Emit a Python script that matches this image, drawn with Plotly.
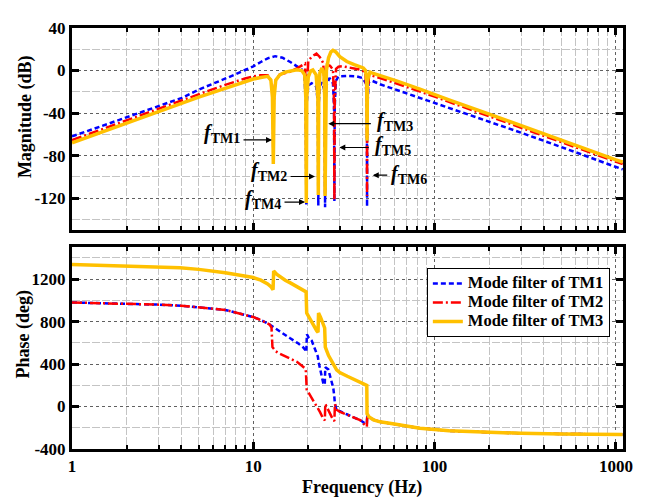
import math
import plotly.graph_objects as go

# ---------------- data ----------------
freq_ticks = [1, 10, 100, 1000]
freq_tick_text = ["1", "10", "100", "1000"]
mag_ticks = [40, 0, -40, -80, -120]
mag_tick_text = ["40", "0", "-40", "-80", "-120"]
mag_minor = [20, -20, -60, -100, -140]
phase_ticks = [1200, 800, 400, 0, -400]
phase_tick_text = ["1200", "800", "400", "0", "-400"]
phase_minor = [1400, 1000, 600, 200, -200]

names = ["Mode filter of TM1", "Mode filter of TM2", "Mode filter of TM3"]

# Magnitude, TM1 filter
mag_f_tm1 = [1, 1.5, 2, 3, 4, 5, 6, 7, 8, 9, 10, 11, 12, 13.2, 14.5, 16, 17.5, 18.5,
             19.1, 19.48, 19.6, 19.72, 20.1, 21, 22.2, 22.7, 22.83, 22.96, 23.4, 23.9,
             24.6, 24.76, 24.88, 25.0, 25.3, 26.3, 27.5, 27.88, 28.0, 28.12, 28.5, 29.5,
             33, 37, 40, 41.8, 42.28, 42.4, 42.52, 43.3, 45, 50, 60, 83, 102, 120, 200,
             300, 500, 700, 1000, 1090]
mag_tm1 = [-62, -51.5, -44, -33.5, -26, -18, -12.5, -7.5, -3.5, 0.5, 4, 8, 11.5, 13.5, 12, 8, 4, 1,
           -3, -30, -126, -30, -14, -12, -15, -30, -127, -30, -14, -11,
           -18, -35, -128.5, -35, -14, -7, -12, -35, -123, -35, -10, -5.5,
           -5, -5.5, -7, -12, -35, -128, -35, -11, -9.5, -12.9, -17.5, -25.5, -31, -35, -48,
           -58.5, -72, -81, -91, -93]

# Magnitude, TM2 filter
mag_f_tm2 = [1, 1.5, 2, 3, 4, 5, 6, 7, 8, 9, 10, 11, 12, 12.6, 12.8, 12.89, 12.98, 13.2,
             14, 15, 16, 17.4, 18.5, 19.3, 19.48, 19.6, 19.72, 20.1, 21, 22.3, 23.3, 24.3,
             24.76, 24.88, 25.0, 25.5, 26.5, 27.5, 27.88, 28.0, 28.12, 28.6, 29.5, 31, 34,
             37.2, 39.5, 41.5, 42.28, 42.4, 42.52, 43.5, 45.9, 50, 60, 80, 102, 120, 200,
             300, 500, 700, 1000, 1090]
mag_tm2 = [-65.5, -54.5, -47, -36, -28.4, -22.5, -17.5, -13.5, -10, -7.5, -5.5, -4.5, -4.5, -10, -30, -85, -30, -10,
           -3.7, -2.5, -1, 2, 4.5, 6.5, -20, -118, -20, 9, 13, 16, 12.5, 7,
           -20, -115, -20, 5.5, 4.5, 1, -30, -122, -30, 1.5, 3.5, 4, 3,
           1.5, 0.5, -2, -30, -118, -30, -4, -5.4, -7, -11.5, -18.5, -25, -29.5, -43,
           -54, -67.5, -76.5, -86, -88]

# Magnitude, TM3 filter
mag_f_tm3 = [1, 1.5, 2, 3, 4, 5, 6, 7, 8, 9, 10, 11, 12, 12.5, 12.75, 12.89, 13.03, 13.3,
             14, 15, 16.5, 17.4, 18.5, 19.2, 19.48, 19.6, 19.72, 20.1, 20.7, 21.3, 22.2,
             22.7, 22.83, 22.96, 23.3, 23.9, 24.5, 24.76, 24.88, 25.0, 25.3, 26, 26.8,
             27.5, 28.5, 30, 32.8, 36, 40.4, 41.6, 42.2, 42.4, 42.6, 43.3, 44, 45, 50,
             61.6, 83, 102, 120, 200, 300, 500, 700, 1000, 1090]
mag_tm3 = [-68, -57, -49.5, -38.5, -31, -25, -20.5, -16.5, -13.5, -10.5, -8, -6.5, -5.5, -9, -25, -88, -25, -9,
           -4, -1.5, 0, 0.7, 0, -4, -25, -124.5, -25, -6, -0.5, 0.5, -4,
           -25, -117, -25, -2, 2.4, -3, -25, -118, -25, 0, 12, 17.5,
           19, 17.5, 13, 8.5, 5.5, 2.4, 0, -10, -66, -10, -5, -1.5, -2.2, -4.5,
           -9.8, -17.5, -23.6, -27.6, -41, -52, -65.5, -74.5, -84, -86]

# Phase, TM1 filter
ph_f_tm1 = [1, 2, 3, 4, 5, 7, 10, 11, 12.3, 14, 15.9, 17.5, 18.8, 19.4, 19.6, 19.75, 20.2,
            21.0, 22.0, 22.7, 22.9, 23.5, 24.3, 24.78, 24.95, 25.9, 26.5, 27.6, 27.95, 28.2,
            28.8, 30.1, 33, 36, 38.8, 41.3, 42.3, 42.45, 42.7, 43.5, 46, 50, 60, 83, 120,
            200, 300, 500, 1000, 1090]
ph_tm1 = [980, 971, 960, 950, 934, 910, 843, 815, 772, 705, 645, 600, 559, 530, 513, 681, 650,
          620, 540, 470, 420, 320, 222, 205, 370, 350, 284, 177, 100, 24,
          -37, -45, -75, -105, -128, -159, -165, -82, -110, -100, -125, -144, -165, -204, -229,
          -245, -252, -258, -262, -263]

# Phase, TM2 filter
ph_f_tm2 = [1, 2, 3, 4, 5, 7, 10, 11, 12.3, 12.6, 12.75, 13.3, 14, 15.9, 17.4, 19.3, 19.5,
            19.7, 20.5, 21.4, 22.4, 23.3, 24.3, 24.8, 24.95, 25.5, 26.5, 27.6, 28.0, 28.2,
            28.8, 30.1, 33, 36, 38.8, 41.3, 42.3, 42.45, 42.7, 43.5, 46, 50, 60, 83, 120,
            200, 300, 500, 1000, 1090]
ph_tm2 = [980, 971, 960, 950, 934, 910, 843, 815, 772, 745, 560, 520, 497, 450, 421, 360, 330,
          160, 110, 55, 10, -50, -115, -130, 24, -10, -60, -128, -135, 24,
          -30, -50, -78, -105, -128, -174, -190, -100, -110, -100, -125, -144, -165, -204, -229,
          -245, -252, -258, -262, -263]

# Phase, TM3 filter
ph_f_tm3 = [1, 2, 3, 3.94, 5, 7, 10, 11, 12, 12.5, 12.85, 12.95, 13.5, 14, 15, 16, 17.5, 19,
            19.55, 19.7, 21.0, 22.4, 22.75, 22.9, 23.5, 24.75, 24.95, 26, 28.8, 30, 33, 36,
            40.4, 42.25, 42.4, 43.5, 46, 50, 60, 83, 120, 200, 300, 500, 1000, 1090]
ph_tm3 = [1337, 1322, 1312, 1307, 1292, 1261, 1215, 1190, 1155, 1130, 1100, 1276, 1245, 1225, 1190, 1165, 1130, 1100,
          1080, 880, 790, 712, 700, 880, 840, 740, 560, 480, 345, 320, 285, 255,
          222, 200, -67, -98, -125, -144, -165, -204, -229, -245, -252, -258, -262, -263]

# notch labels: (label, arrow-head freq, arrow-head dB, arrow tail dx px,
#                text shift x px, text shift y px, text anchor)
notch_labels = [
    ("TM1", 12.68, -65.3, -30, -31, 6, "right"),
    ("TM2", 21.89, -99.7, -26, -27, 5, "right"),
    ("TM4", 19.28, -123.7, -22, -23, 3, "right"),
    ("TM3", 25.93, -50.0, 44, 48, 2, "left"),
    ("TM5", 29.8, -72.4, 31, 35, 2, "left"),
    ("TM6", 45.57, -98.4, 16, 17, 1, "left"),
]

# ---------------- styling ----------------
colors = ["#0000FF", "#FF0000", "#FFC000"]
dashes = ["5px,3px", "10px,3px,2px,3px", "solid"]
widths = [2.5, 2.5, 3.5]
FONT = "Liberation Serif"

fig = go.Figure()
mag_sets = [(mag_f_tm1, mag_tm1), (mag_f_tm2, mag_tm2), (mag_f_tm3, mag_tm3)]
ph_sets = [(ph_f_tm1, ph_tm1), (ph_f_tm2, ph_tm2), (ph_f_tm3, ph_tm3)]
for i in range(3):
    fig.add_trace(go.Scatter(x=mag_sets[i][0], y=mag_sets[i][1], mode="lines", name=names[i],
                             line=dict(color=colors[i], dash=dashes[i], width=widths[i]),
                             xaxis="x", yaxis="y", showlegend=False))
for i in range(3):
    fig.add_trace(go.Scatter(x=ph_sets[i][0], y=ph_sets[i][1], mode="lines",
                             name='<span style="font-size:16.5px">' + names[i] + "</span>",
                             line=dict(color=colors[i], dash=dashes[i], width=widths[i]),
                             xaxis="x2", yaxis="y2", showlegend=True))

minor_x = [d * 10 ** k for k in range(4) for d in range(2, 10)]
tickfont = dict(family=FONT, size=17, color="black", weight="bold")
common_x = dict(type="log", range=[0, 3.039], tickmode="array", tickvals=freq_ticks,
                ticktext=freq_tick_text, ticks="inside", ticklen=7, tickwidth=2.5,
                tickcolor="black", showline=True, linewidth=3, linecolor="black",
                mirror="ticks", showgrid=True, gridcolor="#606060", griddash="dot",
                gridwidth=1, zeroline=False, tickfont=tickfont,
                minor=dict(tickmode="array", tickvals=minor_x, ticks="inside", ticklen=4,
                           tickwidth=2, tickcolor="black", showgrid=True,
                           gridcolor="#c4c4c4", griddash="8px,2px", gridwidth=1))
common_y = dict(ticks="inside", ticklen=7, tickwidth=2.5, tickcolor="black", showline=True,
                linewidth=3, linecolor="black", mirror="ticks", showgrid=True,
                gridcolor="#606060", griddash="dot", gridwidth=1, zeroline=False,
                tickfont=tickfont, tickmode="array")

# the page body adds an 8 px offset, so the figure is 8 px smaller and shifted margins
fig.update_layout(
    width=641, height=490,
    margin=dict(l=64, r=26, t=11, b=49),
    paper_bgcolor="white", plot_bgcolor="white",
    font=dict(family=FONT, color="black"),
    xaxis=dict(common_x, domain=[0, 1], anchor="y", showticklabels=False),
    xaxis2=dict(common_x, domain=[0, 1], anchor="y2", showticklabels=True),
    yaxis=dict(common_y, domain=[0.5202, 1], range=[-150, 40], tickvals=mag_ticks,
               ticktext=mag_tick_text, anchor="x",
               minor=dict(tickmode="array", tickvals=mag_minor, ticks="", showgrid=True,
                          gridcolor="#c4c4c4", griddash="8px,2px", gridwidth=1)),
    yaxis2=dict(common_y, domain=[0, 0.4791], range=[-400, 1500], tickvals=phase_ticks,
                ticktext=phase_tick_text, anchor="x2",
                minor=dict(tickmode="array", tickvals=phase_minor, ticks="", showgrid=True,
                           gridcolor="#c4c4c4", griddash="8px,2px", gridwidth=1)),
    legend=dict(x=0.644, y=0.4302, xanchor="left", yanchor="top", bgcolor="white",
                bordercolor="black", borderwidth=1, tracegroupgap=0,
                font=dict(family=FONT, size=12, color="black", weight="bold")),
    showlegend=True,
)

title_font = dict(family=FONT, size=18, color="black", weight="bold")
fig.add_annotation(text="Magnitude (dB)", xref="paper", yref="paper", x=-0.0853, y=0.7907,
                   xanchor="center", yanchor="middle",
                   textangle=-90, showarrow=False, font=title_font)
fig.add_annotation(text="Phase (deg)", xref="paper", yref="paper", x=-0.0889, y=0.272,
                   xanchor="center", yanchor="middle",
                   textangle=-90, showarrow=False, font=title_font)
fig.add_annotation(text="Frequency (Hz)", xref="paper", yref="paper", x=0.526, y=-0.0907,
                   xanchor="center", yanchor="middle", showarrow=False, font=title_font)

lab_font = dict(family=FONT, size=20, color="black", weight="bold")
for lab, hf, hdb, adx, tdx, tdy, side in notch_labels:
    fig.add_annotation(x=math.log10(hf), y=hdb, xref="x", yref="y", text="",
                       showarrow=True, ax=adx, ay=0, arrowhead=2, arrowsize=1,
                       arrowwidth=1.2, arrowcolor="black")
    fig.add_annotation(x=math.log10(hf), y=hdb, xref="x", yref="y",
                       text="<i>f</i><sub>" + lab + "</sub>", showarrow=False,
                       xshift=tdx, yshift=tdy, xanchor=side, yanchor="middle",
                       font=lab_font, borderpad=0)

fig.write_html("out.html")
